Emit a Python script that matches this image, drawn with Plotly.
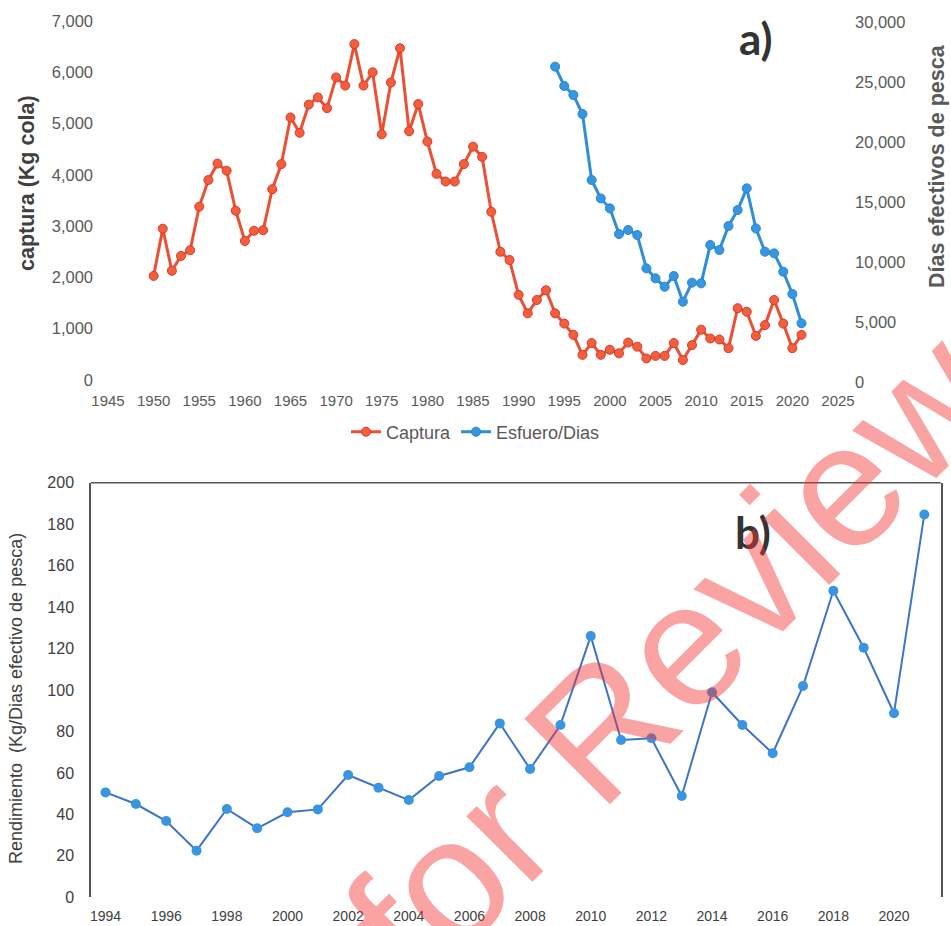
import plotly.graph_objects as go

# ---------------- data ----------------
years_captura = list(range(1950, 2022))
captura = [2030, 2950, 2130, 2420, 2530, 3380, 3900, 4220, 4080, 3300,
           2710, 2910, 2920, 3720, 4210, 5120, 4820, 5370, 5510, 5300,
           5900, 5740, 6550, 5740, 6000, 4790, 5800, 6470, 4850, 5380,
           4650, 4020, 3870, 3870, 4210, 4550, 4350, 3280, 2500, 2340,
           1660, 1300, 1560, 1750, 1300, 1100, 880, 490, 720, 490,
           590, 520, 730, 650, 420, 470, 470, 720, 390, 680,
           980, 810, 790, 620, 1400, 1330, 860, 1070, 1560, 1100,
           620, 880]

years_esfuerzo = list(range(1994, 2022))
esfuerzo = [26280, 24670, 23920, 22330, 16830, 15300, 14470, 12330, 12670, 12250,
            9470, 8640, 7940, 8830, 6690, 8280, 8220, 11420, 11000, 13000,
            14330, 16140, 12800, 10860, 10720, 9190, 7330, 4890]

years_rend = list(range(1994, 2022))
rendimiento = [50.6, 45.0, 36.8, 22.5, 42.6, 33.3, 41.0, 42.4, 59.0, 52.9,
               46.9, 58.5, 62.7, 83.9, 61.9, 83.1, 126.0, 75.9, 76.7, 48.9,
               98.9, 83.1, 69.5, 101.9, 147.9, 120.4, 88.8, 184.7]

FONT = "Liberation Sans, Arial, sans-serif"
W, H = 951, 926

fig = go.Figure()

fig.add_trace(go.Scatter(
    x=years_captura, y=captura, name="Captura", mode="lines+markers",
    line=dict(color="#ec5034", width=3),
    marker=dict(size=9, color="#f0603d", line=dict(color="#e3342b", width=1)),
    xaxis="x", yaxis="y"))

fig.add_trace(go.Scatter(
    x=years_esfuerzo, y=esfuerzo, name="Esfuero/Dias", mode="lines+markers",
    line=dict(color="#2f8edb", width=3),
    marker=dict(size=9, color="#3596e1", line=dict(color="#2a85d0", width=1)),
    xaxis="x", yaxis="y2"))

fig.add_trace(go.Scatter(
    x=years_rend, y=rendimiento, name="Rendimiento", mode="lines+markers",
    showlegend=False,
    line=dict(color="#3d74c9", width=2),
    marker=dict(size=10, color="#3a95e0", line=dict(color="#3a95e0", width=0)),
    xaxis="x2", yaxis="y3"))

tick_a = dict(family=FONT, size=15, color="#595959")

fig.update_layout(
    width=W, height=H,
    margin=dict(l=0, r=0, t=0, b=0, autoexpand=False),
    paper_bgcolor="white", plot_bgcolor="rgba(0,0,0,0)",
    font=dict(family=FONT, color="#404040"),
    xaxis=dict(domain=[108 / W, 838 / W], range=[1945, 2025], dtick=5, tick0=1945,
               showgrid=False, zeroline=False, showline=False, anchor="y",
               tickfont=tick_a, ticklabelstandoff=10, automargin=False),
    yaxis=dict(domain=[1 - 380 / H, 1 - 21 / H], range=[0, 7000], dtick=1000,
               tickformat=",", showgrid=False, zeroline=False, showline=False,
               tickfont=dict(family=FONT, size=16.5, color="#595959"),
               ticklabelstandoff=14, anchor="x", automargin=False),
    yaxis2=dict(domain=[1 - 382 / H, 1 - 22 / H], range=[0, 30000], dtick=5000,
                tickformat=",", showgrid=False, zeroline=False, showline=False,
                side="right", anchor="x",
                tickfont=dict(family=FONT, size=16.5, color="#595959"),
                ticklabelstandoff=16, automargin=False),
    xaxis2=dict(domain=[91 / W, 940.7 / W], range=[1993.52, 2021.54], dtick=2, tick0=1994,
                showgrid=False, zeroline=False, showline=False, anchor="y3",
                tickfont=dict(family=FONT, size=14, color="#404040"),
                ticklabelstandoff=9, automargin=False),
    yaxis3=dict(domain=[1 - 897.3 / H, 1 - 482.7 / H], range=[0, 200], dtick=20,
                showgrid=False, zeroline=False, showline=True, mirror=True,
                linecolor="#555555", linewidth=1.5, anchor="x2",
                tickfont=dict(family=FONT, size=16, color="#404040"),
                ticklabelstandoff=12, automargin=False),
    legend=dict(orientation="h", x=0.5, xanchor="center", y=1 - 432 / H, yanchor="middle",
                font=dict(family=FONT, size=18, color="#595959"),
                bgcolor="rgba(0,0,0,0)", tracegroupgap=0),
    showlegend=True,
)

# top border of panel b
fig.add_shape(type="line", xref="x2 domain", yref="y3 domain", x0=0, x1=1, y0=1, y1=1,
              line=dict(color="#555555", width=1.5))

ann = [
    dict(text="<b>captura (Kg cola)</b>", x=27 / W, y=1 - 183 / H, textangle=-90,
         font=dict(family=FONT, size=21.5, color="#404040")),
    dict(text="<b>Días efectivos de pesca</b>", x=937 / W, y=1 - 166 / H, textangle=-90,
         font=dict(family=FONT, size=21.5, color="#595959")),
    dict(text="Rendimiento  (Kg/Dias efectivo de pesca)", x=16 / W, y=1 - 699 / H,
         textangle=-90, font=dict(family=FONT, size=18, color="#404040")),
    dict(text="<b>a)</b>", x=756 / W, y=1 - 38 / H,
         font=dict(family="Lato, Liberation Sans, sans-serif", size=44, color="#333333")),
    dict(text="<b>b)</b>", x=753 / W, y=1 - 532 / H,
         font=dict(family="Lato, Liberation Sans, sans-serif", size=44, color="#333333")),
    dict(text="for Review", x=671 / W, y=1 - 657 / H, textangle=-45,
         font=dict(family=FONT, size=176, color="rgba(245,50,50,0.45)")),
]
for a in ann:
    a.update(xref="paper", yref="paper", showarrow=False, xanchor="center", yanchor="middle")
    fig.add_annotation(**a)

fig.write_html("out.html")
